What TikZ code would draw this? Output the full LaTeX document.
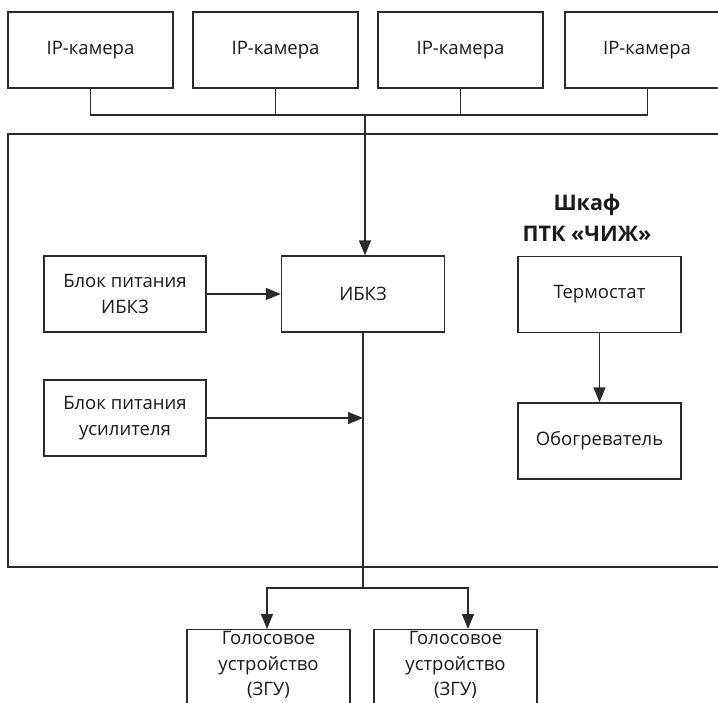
\documentclass[tikz,border=0pt]{standalone}
\usepackage{fontspec}
\setmainfont{Open Sans}
\usetikzlibrary{arrows.meta}
\definecolor{ln}{HTML}{2A2A2A}
\definecolor{tx}{HTML}{1A1A1A}
\tikzset{
  box/.style={draw=ln, line width=1.4pt, rectangle, minimum height=76pt, text=tx, align=center, inner sep=0pt},
  conn/.style={draw=ln, line width=1.4pt},
  arr/.style={conn, -{Triangle[length=15pt,width=12pt]}},
  lbl/.style={font=\fontsize{18.5}{25.5}\selectfont}
}
\begin{document}
\begin{tikzpicture}[x=1pt,y=-1pt]
\useasboundingbox (0,0) rectangle (718,702);
\clip (0,0) rectangle (718,702);
\fill[white] (0,0) rectangle (718,702);
% cameras
\node[box, lbl, minimum width=165pt] (cam1) at (90.5,50) {IP-камера};
\node[box, lbl, minimum width=165pt] (cam2) at (275.5,50) {IP-камера};
\node[box, lbl, minimum width=165pt] (cam3) at (460.5,50) {IP-камера};
\node[box, minimum width=165pt] (cam4) at (647.5,50) {};
\node[lbl, text=tx] (cam4t) at (647,50) {IP-камера};
\coordinate (bus) at (365,115);
% outer cabinet
\draw[conn] (8,134) rectangle (740,567);
% inner blocks
\node[box, lbl, minimum width=163pt] (ibkz) at (363,294) {ИБКЗ};
\node[box, lbl, minimum width=162pt] (bpi) at (125,294) {Блок питания\\ИБКЗ};
\node[box, lbl, minimum width=162pt] (bpu) at (125,418) {Блок питания\\усилителя};
\node[box, lbl, minimum width=163pt] (term) at (599.5,294.5) {Термостат};
\node[box, lbl, minimum width=163pt] (heat) at (599.5,441) {Обогреватель};
\node[font=\bfseries\fontsize{21.5}{31}\selectfont, text=tx, align=center] (title) at (587,217.5) {Шкаф\\ПТК «ЧИЖ»};
% bottom devices (cut by the picture edge)
\node[box, minimum width=163pt, minimum height=100pt, anchor=north] (zgu1) at (268.5,629) {};
\node[box, minimum width=163pt, minimum height=100pt, anchor=north] (zgu2) at (455.5,629) {};
\node[lbl, text=tx, align=center, anchor=north] (zgu1t) at (268.5,628) {Голосовое\\устройство\\(ЗГУ)};
\node[lbl, text=tx, align=center, anchor=north] (zgu2t) at (455.5,628) {Голосовое\\устройство\\(ЗГУ)};
% bus of cameras
\draw[conn] (cam1.south) |- (bus) -| (cam4.south);
\draw[conn] (cam2.south) -- (cam2.south |- bus);
\draw[conn] (cam3.south) -- (cam3.south |- bus);
\draw[arr] (bus) -- (bus |- ibkz.north);
% power supplies
\draw[arr] (bpi.east) -- (ibkz.west);
\coordinate (vline) at (ibkz.south);
\coordinate (split) at (363,588);
\draw[conn] (ibkz.south) -- (split);
\draw[arr] (bpu.east) -- (bpu.east -| vline);
% thermostat
\draw[arr] (term.south) -- (heat.north);
% outputs
\coordinate (l1) at (267,588);
\coordinate (r1) at (468,588);
\draw[arr] (split) -- (l1) -- (l1 |- zgu1.north);
\draw[arr] (split) -- (r1) -- (r1 |- zgu2.north);
\end{tikzpicture}
\end{document}
